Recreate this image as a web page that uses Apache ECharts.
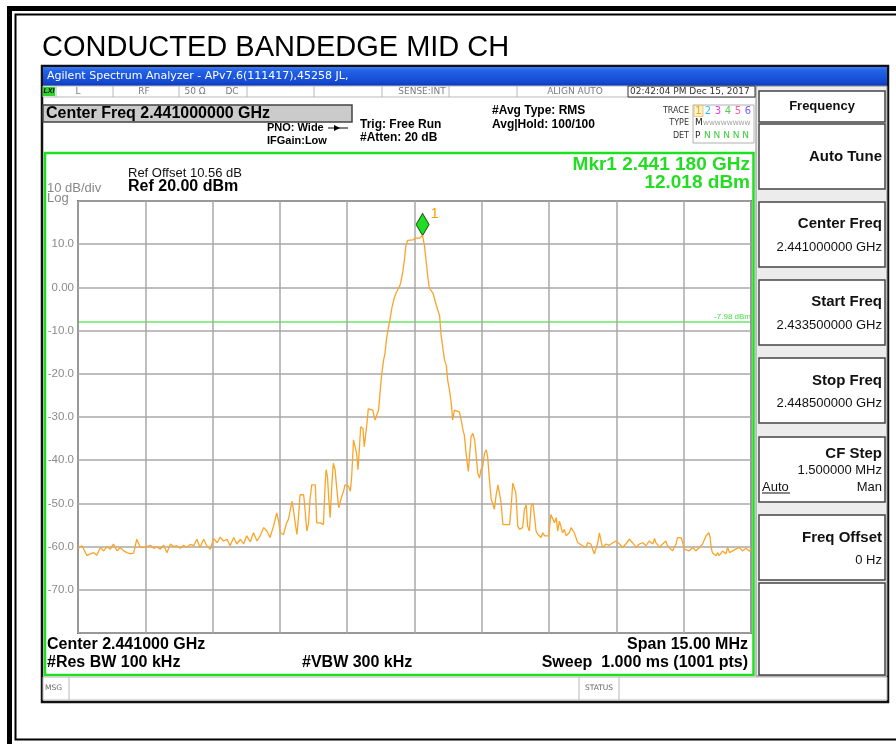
<!DOCTYPE html>
<html>
<head>
<meta charset="utf-8">
<title>Conducted Bandedge Mid CH</title>
<script src="https://cdn.jsdelivr.net/npm/echarts@6/dist/echarts.min.js"></script>
<style>
  html, body { margin: 0; padding: 0; background: #fff; }
  #chart { width: 896px; height: 744px; }
</style>
</head>
<body>
<div id="chart"></div>
<script>
// sweep 2.4335 - 2.4485 GHz, x = MHz above start freq, y = dBm
const spanMHz = 15
const tracePoints = [
  [0.00, -60.4], [0.09, -59.8], [0.13, -60.6], [0.20, -62.1], [0.27, -61.7], [0.35, -61.4], [0.42, -62.0], [0.50, -60.2], [0.57, -61.0], [0.65, -60.0],
  [0.72, -60.6], [0.79, -59.4], [0.87, -61.0], [0.94, -60.2], [1.02, -61.0], [1.09, -61.4], [1.17, -61.7], [1.24, -61.5], [1.31, -58.3], [1.35, -58.3],
  [1.39, -60.2], [1.50, -60.2], [1.61, -59.7], [1.69, -60.4], [1.76, -60.0], [1.83, -60.6], [1.91, -59.7], [1.98, -61.4], [2.06, -59.4], [2.13, -60.0],
  [2.20, -59.8], [2.28, -60.4], [2.35, -59.7], [2.43, -60.2], [2.50, -59.5], [2.58, -59.8], [2.65, -58.3], [2.72, -60.2], [2.80, -58.3], [2.87, -59.8],
  [2.95, -60.6], [3.02, -58.1], [3.10, -59.1], [3.17, -57.8], [3.24, -58.7], [3.32, -58.3], [3.39, -59.8], [3.47, -57.9], [3.54, -59.4], [3.62, -58.3],
  [3.69, -59.4], [3.76, -57.5], [3.84, -58.9], [3.91, -56.8], [3.99, -58.7], [4.06, -57.5], [4.14, -55.6], [4.21, -56.4], [4.28, -57.9], [4.36, -55.2],
  [4.43, -52.2], [4.47, -54.1], [4.51, -56.8], [4.58, -57.2], [4.65, -54.5], [4.69, -53.7], [4.73, -53.7], [4.77, -49.5], [4.80, -51.4], [4.84, -54.5],
  [4.88, -57.2], [4.91, -53.7], [4.95, -48.0], [4.99, -47.6], [5.03, -48.0], [5.06, -51.4], [5.10, -56.4], [5.14, -54.5], [5.17, -49.1], [5.21, -45.7],
  [5.25, -45.3], [5.29, -45.7], [5.32, -54.5], [5.40, -54.5], [5.47, -54.9], [5.51, -45.3], [5.53, -42.2], [5.56, -43.8], [5.59, -49.1], [5.62, -53.3],
  [5.66, -45.3], [5.69, -40.7], [5.73, -42.2], [5.77, -46.8], [5.81, -51.0], [5.84, -51.0], [5.88, -48.3], [5.92, -47.2], [5.95, -45.7], [6.03, -46.0],
  [6.07, -47.2], [6.10, -43.8], [6.14, -35.3], [6.18, -34.9], [6.21, -38.4], [6.24, -42.2], [6.27, -37.6], [6.30, -32.3], [6.35, -32.6], [6.38, -36.9],
  [6.41, -34.2], [6.44, -31.5], [6.47, -28.1], [6.51, -27.8], [6.57, -28.4], [6.62, -30.7], [6.66, -30.7], [6.70, -28.4], [6.73, -24.6], [6.77, -20.0],
  [6.81, -16.9], [6.84, -15.4], [6.88, -11.6], [6.92, -9.3], [6.96, -7.0], [7.00, -4.5], [7.05, -2.4], [7.09, -1.3], [7.13, -0.5], [7.17, 0.3],
  [7.20, 1.4], [7.24, 3.7], [7.28, 6.8], [7.31, 9.8], [7.35, 10.9], [7.39, 11.0], [7.46, 11.0], [7.54, 11.4], [7.57, 11.8], [7.61, 11.4],
  [7.65, 11.8], [7.68, 12.0], [7.72, 9.8], [7.76, 6.0], [7.80, 2.2], [7.83, -0.1], [7.91, -1.3], [7.98, -3.9], [8.06, -6.6], [8.09, -10.8],
  [8.13, -13.9], [8.17, -16.9], [8.21, -18.1], [8.24, -21.5], [8.28, -23.8], [8.32, -26.9], [8.35, -30.7], [8.39, -28.4], [8.43, -28.1], [8.50, -28.8],
  [8.54, -30.7], [8.58, -33.0], [8.61, -34.2], [8.65, -38.4], [8.70, -42.6], [8.72, -39.9], [8.76, -34.6], [8.80, -33.8], [8.84, -35.3], [8.87, -38.4],
  [8.91, -43.0], [8.95, -44.1], [8.98, -42.2], [9.02, -41.5], [9.06, -38.4], [9.10, -37.6], [9.13, -39.2], [9.17, -44.5], [9.21, -49.1], [9.24, -49.9],
  [9.28, -51.4], [9.32, -48.0], [9.36, -45.7], [9.39, -46.0], [9.43, -49.9], [9.47, -54.9], [9.50, -55.2], [9.54, -54.9], [9.58, -55.2], [9.62, -54.9],
  [9.65, -51.4], [9.69, -45.3], [9.73, -45.7], [9.76, -47.6], [9.80, -55.2], [9.84, -56.0], [9.88, -56.0], [9.91, -55.6], [9.95, -51.4], [9.99, -50.3],
  [10.02, -55.2], [10.06, -56.4], [10.10, -50.6], [10.14, -49.9], [10.17, -50.3], [10.21, -56.4], [10.25, -57.2], [10.28, -56.8], [10.32, -57.9], [10.36, -56.8],
  [10.40, -57.5], [10.43, -57.2], [10.49, -57.5], [10.54, -52.6], [10.58, -52.9], [10.62, -54.5], [10.66, -53.3], [10.69, -56.4], [10.73, -54.1], [10.77, -53.7],
  [10.80, -56.8], [10.84, -56.0], [10.88, -57.5], [10.91, -57.9], [10.95, -56.8], [10.99, -55.6], [11.03, -55.6], [11.06, -56.8], [11.10, -57.2], [11.14, -59.1],
  [11.17, -59.5], [11.25, -59.8], [11.32, -60.2], [11.36, -59.1], [11.40, -58.7], [11.43, -59.4], [11.47, -60.6], [11.51, -61.7], [11.55, -60.2], [11.58, -59.4],
  [11.62, -56.8], [11.66, -57.2], [11.69, -60.2], [11.77, -59.4], [11.84, -59.7], [11.92, -59.1], [11.99, -58.7], [12.07, -59.4], [12.14, -60.2], [12.21, -59.4],
  [12.29, -58.3], [12.36, -59.1], [12.44, -60.2], [12.51, -59.4], [12.59, -59.1], [12.66, -59.8], [12.73, -58.7], [12.81, -59.4], [12.85, -58.1], [12.88, -59.1],
  [12.96, -60.2], [13.03, -59.4], [13.10, -58.7], [13.14, -59.8], [13.18, -60.2], [13.25, -61.0], [13.33, -59.4], [13.36, -57.9], [13.40, -57.5], [13.44, -57.9],
  [13.48, -59.1], [13.51, -60.6], [13.55, -60.2], [13.62, -61.0], [13.70, -60.2], [13.77, -61.0], [13.85, -60.2], [13.92, -59.4], [14.00, -57.5], [14.06, -56.8],
  [14.09, -57.9], [14.11, -60.2], [14.14, -61.4], [14.22, -62.1], [14.26, -61.4], [14.29, -62.1], [14.37, -61.0], [14.44, -61.7], [14.48, -60.2], [14.52, -61.4],
  [14.59, -61.0], [14.66, -60.6], [14.74, -60.2], [14.81, -61.0], [14.89, -60.4], [14.96, -61.0], [15.00, -60.6]
]
const yTickValues = [10, 0, -10, -20, -30, -40, -50, -60, -70]
const yTickLabels = ['10.0', '0.00', '-10.0', '-20.0', '-30.0', '-40.0', '-50.0', '-60.0', '-70.0']
const displayLineDbm = -7.98
const markerPoint = [7.68, 12.018]

// softkeys: [title, value, title middle y, value middle y, box top]
const softkeys = [
  ['Auto Tune', '', 157, 0, 124],
  ['Center Freq', '2.441000000 GHz', 224, 247, 202],
  ['Start Freq', '2.433500000 GHz', 302, 325, 280],
  ['Stop Freq', '2.448500000 GHz', 381, 403, 358],
  ['CF Step', '1.500000 MHz', 454, 470, 437],
  ['Freq Offset', '0 Hz', 538, 560, 515]
]

const SANS = '"Liberation Sans", Arial, sans-serif'
const UI = '"DejaVu Sans", Tahoma, sans-serif'
const GREEN = '#22dd22'

function box(x, y, w, h, fill, stroke, lw, z) {
  return { type: 'rect', z: z || 1, shape: { x: x, y: y, width: w, height: h },
    style: { fill: fill || 'none', stroke: stroke || 'none', lineWidth: lw || 1 } }
}
function seg(x1, y1, x2, y2, stroke, lw, z) {
  return { type: 'line', z: z || 2, shape: { x1: x1, y1: y1, x2: x2, y2: y2 },
    style: { stroke: stroke, lineWidth: lw || 1 } }
}
function label(x, y, text, font, fill, align) {
  return { type: 'text', z: 30, x: x, y: y,
    style: { text: text, font: font, fill: fill || '#000', textAlign: align || 'left', align: align || 'left',
      textVerticalAlign: 'middle', verticalAlign: 'middle' } }
}

const g = []
// page frame
g.push(box(7, 6, 900, 5, '#000', null, 1, 1))
g.push(box(7, 6, 5, 740, '#000', null, 1, 1))
g.push(box(15.5, 14.5, 890, 725, null, '#000', 2, 1))
g.push(label(42, 48, 'CONDUCTED BANDEDGE MID CH', '29px ' + SANS, '#000'))

// analyzer screen
g.push(box(42, 66, 846, 636, '#fff', '#111', 2.5, 1))
g.push({ type: 'rect', z: 2, shape: { x: 43, y: 67, width: 844, height: 19 },
  style: { fill: new echarts.graphic.LinearGradient(0, 0, 0, 1, [
    { offset: 0, color: '#3d7cf2' }, { offset: 0.2, color: '#2262e6' },
    { offset: 0.8, color: '#1449d2' }, { offset: 1, color: '#0c36b4' }]) } })
g.push(label(47, 76, 'Agilent Spectrum Analyzer - APv7.6(111417),45258 JL,', '11px ' + UI, '#fff'))

// status row
g.push(box(43, 86, 713, 11, '#fff', '#b8b8b8', 1, 2))
;[56, 113, 179, 247, 314, 382, 449, 517].forEach(x => g.push(seg(x, 86, x, 97, '#b8b8b8', 1, 3)))
g.push(box(43, 87, 12, 9, '#2bd62b', null, 1, 3))
g.push(label(49, 91.5, 'LXI', 'italic bold 7px ' + SANS, '#000', 'center'))
;[['L', 78], ['RF', 144], ['50 Ω', 195], ['DC', 232], ['SENSE:INT', 422], ['ALIGN AUTO', 575]].forEach(t =>
  g.push(label(t[1], 91.5, t[0], '9px ' + UI, '#7a7a7a', 'center')))
g.push(box(628, 86, 127, 11, '#fff', '#333', 1, 3))
g.push(label(630, 91.5, '02:42:04 PM Dec 15, 2017', '9px ' + UI, '#333'))

// header info
g.push(box(43, 105, 309, 17, '#cbcbcb', '#444', 1.5, 2))
g.push(label(46, 113.5, 'Center Freq 2.441000000 GHz', 'bold 16px ' + SANS, '#000'))
g.push(label(267, 128, 'PNO: Wide', 'bold 11px ' + SANS, '#000'))
g.push(label(267, 141, 'IFGain:Low', 'bold 11px ' + SANS, '#000'))
g.push(seg(328, 128, 348, 128, '#000', 1, 3))
g.push({ type: 'polygon', z: 3, shape: { points: [[334, 125], [340, 128], [334, 131]] }, style: { fill: '#000' } })
g.push(label(360, 124.5, 'Trig: Free Run', 'bold 12px ' + SANS, '#000'))
g.push(label(360, 138, '#Atten: 20 dB', 'bold 12px ' + SANS, '#000'))
g.push(label(492, 111, '#Avg Type: RMS', 'bold 12px ' + SANS, '#000'))
g.push(label(492, 124.5, 'Avg|Hold: 100/100', 'bold 12px ' + SANS, '#000'))
g.push(label(689, 110.5, 'TRACE', '8px ' + UI, '#333', 'right'))
g.push(label(689, 123, 'TYPE', '8px ' + UI, '#333', 'right'))
g.push(label(689, 135.5, 'DET', '8px ' + UI, '#333', 'right'))
g.push(box(693, 105, 61, 38, '#fff', '#b0b0b0', 1, 2))
g.push(box(694, 105.5, 9, 11, '#fff3c8', '#e0c070', 0.8, 3))
;[['1', 698.5, '#f5a020'], ['2', 708, '#2cc0ec'], ['3', 718, '#e040e0'], ['4', 728, '#50d050'],
  ['5', 738, '#ff5c9c'], ['6', 748, '#7858ff']].forEach(t =>
  g.push(label(t[1], 111, t[0], '10px ' + UI, t[2], 'center')))
g.push(label(695, 123, 'M', '9px ' + UI, '#222'))
g.push(label(703, 123, 'WWWWWWWW', '6px ' + UI, '#999'))
g.push(label(695, 135.5, 'P', '9px ' + UI, '#222'))
g.push(label(704, 135.5, 'N N N N N', '9px ' + UI, '#3ccc3c'))

// plot panel
g.push(box(45, 153, 708.5, 522, '#fff', '#1ee01e', 2.5, 2))
g.push(label(128, 173, 'Ref Offset 10.56 dB', '13px ' + SANS, '#111'))
g.push(label(128, 187, 'Ref 20.00 dBm', 'bold 16px ' + SANS, '#000'))
g.push(label(47, 188, '10 dB/div', '13px ' + SANS, '#888'))
g.push(label(47, 198.5, 'Log', '13px ' + SANS, '#888'))
g.push(label(750, 164.5, 'Mkr1 2.441 180 GHz', 'bold 19px ' + SANS, GREEN, 'right'))
g.push(label(750, 183, '12.018 dBm', 'bold 19px ' + SANS, GREEN, 'right'))
g.push(label(47, 645, 'Center 2.441000 GHz', 'bold 16px ' + SANS, '#000'))
g.push(label(47, 663, '#Res BW 100 kHz', 'bold 16px ' + SANS, '#000'))
g.push(label(302, 663, '#VBW 300 kHz', 'bold 16px ' + SANS, '#000'))
g.push(label(748, 645, 'Span 15.00 MHz', 'bold 16px ' + SANS, '#000', 'right'))
g.push(label(748, 663, 'Sweep  1.000 ms (1001 pts)', 'bold 16px ' + SANS, '#000', 'right'))

// message row
g.push(box(43, 677, 844, 23, '#fff', '#b8b8b8', 1, 2))
g.push(seg(69, 677, 69, 700, '#b8b8b8', 1, 3))
g.push(seg(579, 677, 579, 700, '#b8b8b8', 1, 3))
g.push(seg(619, 677, 619, 700, '#b8b8b8', 1, 3))
g.push(label(45, 688.5, 'MSG', '7.5px ' + UI, '#666'))
g.push(label(599, 688.5, 'STATUS', '7.5px ' + UI, '#666', 'center'))

// softkey panel
g.push(box(756, 86, 131, 590, '#ececec', '#888', 1, 2))
g.push(box(759, 91, 126, 31, '#fff', '#444', 1.5, 3))
g.push(label(822, 106, 'Frequency', 'bold 13px ' + SANS, '#111', 'center'))
softkeys.forEach(k => {
  g.push(box(759, k[4], 126, 65, '#fff', '#444', 1.5, 3))
  g.push(label(882, k[2], k[0], 'bold 15px ' + SANS, '#111', 'right'))
  if (k[1]) g.push(label(882, k[3], k[1], '13px ' + SANS, '#111', 'right'))
})
g.push(label(762, 487, 'Auto', '13px ' + SANS, '#111'))
g.push(seg(762, 493, 790, 493, '#111', 1, 31))
g.push(label(882, 487, 'Man', '13px ' + SANS, '#111', 'right'))
g.push(box(759, 583, 126, 92, '#fff', '#444', 1.5, 3))

const chart = echarts.init(document.getElementById('chart'), null, { renderer: 'canvas' })
chart.setOption({
  animation: false,
  backgroundColor: '#fff',
  graphic: { elements: g },
  grid: {
    left: 78, top: 201, width: 673, height: 432,
    show: true, borderColor: '#6e6e6e', borderWidth: 2, backgroundColor: 'transparent', z: 10
  },
  xAxis: {
    type: 'value', min: 0, max: spanMHz, interval: 1.5, z: 10,
    axisLine: { show: false }, axisTick: { show: false }, axisLabel: { show: false },
    splitLine: { show: true, lineStyle: { color: '#a8a8a8', width: 1.5 } }
  },
  yAxis: {
    type: 'value', min: -80, max: 20, interval: 10, z: 10,
    axisLine: { show: false }, axisTick: { show: false },
    splitLine: { show: true, lineStyle: { color: '#a8a8a8', width: 1.5 } },
    axisLabel: {
      margin: 4, color: '#8a8a8a', fontSize: 11.5, fontFamily: 'Liberation Sans',
      formatter: v => {
        const i = yTickValues.indexOf(v)
        return i < 0 ? '' : yTickLabels[i]
      }
    }
  },
  series: [{
    type: 'line',
    z: 20,
    data: tracePoints,
    showSymbol: false,
    silent: true,
    lineStyle: { color: '#fba42a', width: 1.3 },
    markLine: {
      silent: true, symbol: 'none', animation: false,
      lineStyle: { color: '#66ea66', width: 1.5, type: 'solid' },
      label: { show: true, position: 'insideEndTop', formatter: '-7.98 dBm', color: '#44dd44', fontSize: 8, distance: [0, 1] },
      data: [{ yAxis: displayLineDbm }]
    },
    markPoint: {
      silent: true, animation: false,
      symbol: 'diamond', symbolSize: [13, 22], symbolOffset: [0, '-50%'],
      itemStyle: { color: '#22dd22', borderColor: '#1d5a1d', borderWidth: 1 },
      label: { show: true, formatter: '1', position: [15, -6], color: '#ff9a00', fontSize: 14, fontFamily: 'Liberation Sans' },
      data: [{ coord: markerPoint }]
    }
  }]
})
</script>
</body>
</html>
